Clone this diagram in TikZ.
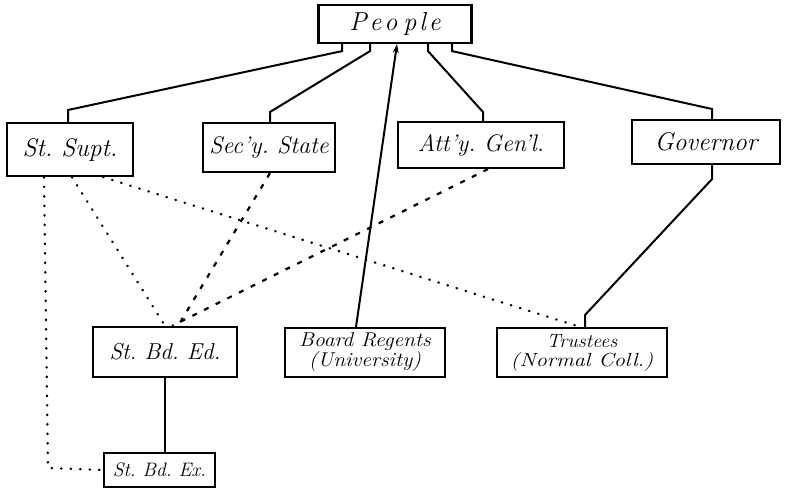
\documentclass[tikz,border=0pt]{standalone}
\usepackage{fontspec}
\usetikzlibrary{arrows.meta}
\newcommand{\hfs}[1]{\itshape\fontsize{#1}{#1}\selectfont}
\newcommand{\wide}[2]{\scalebox{#1}[1]{#2}}
\frenchspacing
\begin{document}
\begin{tikzpicture}[x=1pt,y=-1pt,
  box/.style={draw,line width=2.2pt,rectangle,inner sep=0pt,align=center},
  solidlink/.style={line width=2pt},
  dotlink/.style={line width=2.4pt,line cap=round,dash pattern=on 0.5pt off 9pt},
  dashlink/.style={line width=2.2pt,dash pattern=on 5pt off 8pt}]
\useasboundingbox[fill=white] (0,0) rectangle (785,498);

% offices
\node[box,minimum width=153pt,minimum height=38pt,font=\hfs{26}] (people) at (395,24) {P\kern3pt e\kern3pt o\kern6pt p\kern3pt l\kern3pt e};
\node[box,minimum width=126pt,minimum height=53pt,font=\hfs{25.5}] (supt) at (70,149.5) {St. Supt.};
\node[box,minimum width=132pt,minimum height=49pt,font=\hfs{24}] (secy) at (269,147.5) {Sec'y. State};
\node[box,minimum width=166pt,minimum height=46pt,font=\hfs{24}] (atty) at (481,145) {Att'y. Gen'l.};
\node[box,minimum width=148pt,minimum height=44pt,font=\hfs{25.5}] (gov) at (706,142) {Governor};
\node[box,minimum width=144pt,minimum height=50pt,font=\hfs{23}] (bded) at (165,352) {St. Bd. Ed.};
\node[box,minimum width=160pt,minimum height=49pt,font=\itshape\fontsize{20}{19}\selectfont] (regents) at (365,352.5) {\wide{1.08}{Board Regents}\\\wide{1.08}{(University)}};
\node[box,minimum width=170pt,minimum height=49pt,font=\itshape\fontsize{19}{19}\selectfont] (trustees) at (582,352.5) {\wide{1.05}{Trustees}\\\wide{1.17}{(Normal Coll.)}};
\node[box,minimum width=111pt,minimum height=34pt,font=\hfs{19.5}] (bdex) at (159.5,470) {St. Bd. Ex.};

% elected by the people
\draw[solidlink] (342,0 |- people.south) -- ++(0,7) -- (68,110) -- (68,0 |- supt.north);
\draw[solidlink] (370,0 |- people.south) -- ++(0,7) -- (270,112) -- (270,0 |- secy.north);
\draw[solidlink] (428,0 |- people.south) -- ++(0,7) -- (483,112) -- (483,0 |- atty.north);
\draw[solidlink] (452,0 |- people.south) -- ++(0,7) -- (712,109) -- (712,0 |- gov.north);
\draw[solidlink,-{Stealth[length=9pt,width=6pt]}] (356,0 |- regents.north) -- (397,0 |- people.south);

% appointments
\draw[solidlink] (712,0 |- gov.south) -- ++(0,14) -- (585,315) -- (585,0 |- trustees.north);
\draw[solidlink] (bded.south) -- (165,0 |- bdex.north);

% ex officio memberships
\draw[dotlink] (44,0 |- supt.south) -- (48,468) -- (bdex.west);
\draw[dotlink] (72,0 |- supt.south) -- (165,0 |- bded.north);
\draw[dotlink] (103,0 |- supt.south) -- (580,0 |- trustees.north);
\draw[dashlink] (270,0 |- secy.south) -- (178,0 |- bded.north);
\draw[dashlink] (488,0 |- atty.south) -- (172,0 |- bded.north);
\end{tikzpicture}
\end{document}
